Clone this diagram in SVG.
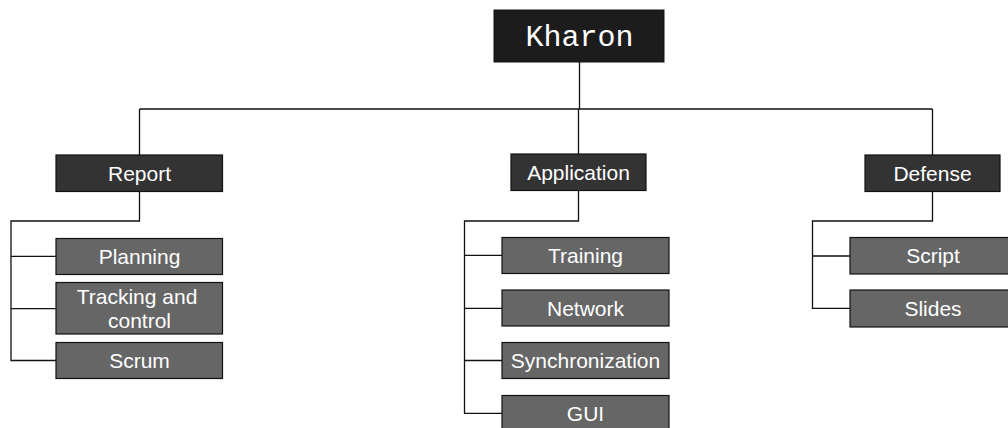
<svg xmlns="http://www.w3.org/2000/svg" width="1008" height="428" viewBox="0 0 1008 428">
<style>
.root{fill:#1c1c1c;stroke:#111;stroke-width:1}
.l1{fill:#333333;stroke:#111;stroke-width:1.2}
.l2{fill:#666666;stroke:#111;stroke-width:1.2}
.t{font-family:"Liberation Sans",Arial,sans-serif;font-size:21px;fill:#ffffff;text-anchor:middle}
.tm{font-family:"Liberation Mono","Courier New",monospace;font-size:30px;fill:#ffffff;text-anchor:middle}
.c{fill:none;stroke:#111;stroke-width:1.3}
</style>
<rect width="1008" height="428" fill="#ffffff"/>
<g id="connectors">
<path class="c" d="M579.5 62V109M139.5 109H932.5M139.5 109V155M578.5 109V154M932.5 109V155"/>
<path class="c" d="M139.5 192V221H11V360.5H56M11 256.3H56M11 308.7H56"/>
<path class="c" d="M578.5 191V221H464.5V413.3H502M464.5 255.3H502M464.5 308.3H502M464.5 360.5H502"/>
<path class="c" d="M932.5 192V221H812.5V308.3H850M812.5 256H850"/>
</g>
<g id="kharon"><rect class="root" x="494" y="10" width="170" height="52"/><text class="tm" x="579.5" y="46">Kharon</text></g>
<g id="report"><rect class="l1" x="56" y="155" width="166.5" height="36.5"/><text class="t" x="139.5" y="181">Report</text></g>
<g id="application"><rect class="l1" x="511" y="154" width="135" height="36.5"/><text class="t" x="578.5" y="180">Application</text></g>
<g id="defense"><rect class="l1" x="865" y="155" width="135" height="36.5"/><text class="t" x="932.5" y="181">Defense</text></g>
<g id="planning"><rect class="l2" x="56" y="238.5" width="166.5" height="36"/><text class="t" x="139.5" y="264">Planning</text></g>
<g id="tracking"><rect class="l2" x="56" y="282.5" width="166.5" height="51.5"/><text class="t" x="137" y="304">Tracking and</text><text class="t" x="139.5" y="328">control</text></g>
<g id="scrum"><rect class="l2" x="56" y="342.5" width="166.5" height="36"/><text class="t" x="139.5" y="368">Scrum</text></g>
<g id="training"><rect class="l2" x="502" y="237.5" width="167" height="36"/><text class="t" x="585.5" y="263">Training</text></g>
<g id="network"><rect class="l2" x="502" y="290" width="167" height="36"/><text class="t" x="585.5" y="316">Network</text></g>
<g id="synchronization"><rect class="l2" x="502" y="342.5" width="167" height="36"/><text class="t" x="585.5" y="368">Synchronization</text></g>
<g id="gui"><rect class="l2" x="502" y="395.5" width="167" height="36"/><text class="t" x="585.5" y="421">GUI</text></g>
<g id="script"><rect class="l2" x="850" y="237.5" width="166" height="36.5"/><text class="t" x="933" y="263">Script</text></g>
<g id="slides"><rect class="l2" x="850" y="290" width="166" height="37"/><text class="t" x="933" y="316">Slides</text></g>
</svg>
